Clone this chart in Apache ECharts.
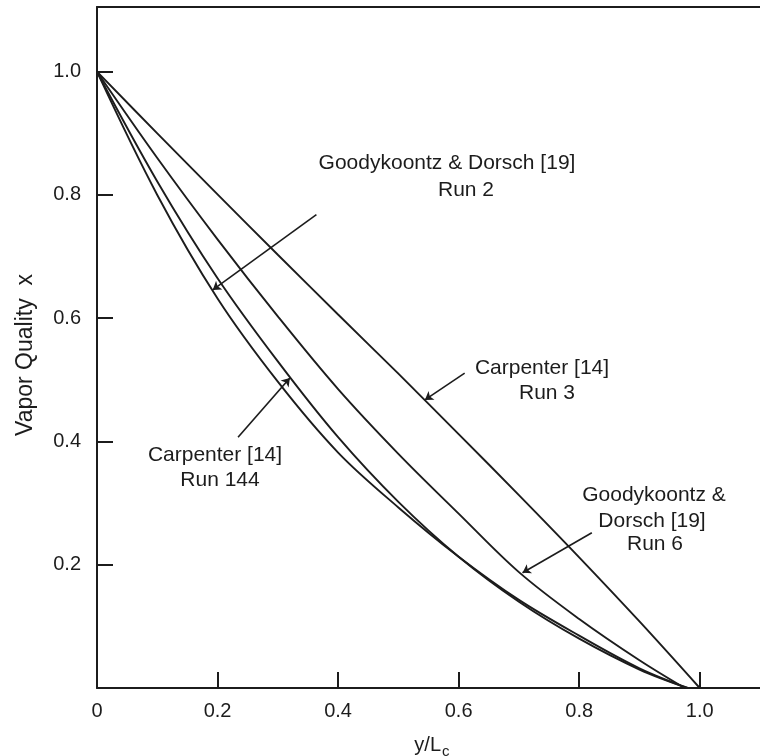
<!DOCTYPE html>
<html>
<head>
<meta charset="utf-8">
<script src="https://cdn.jsdelivr.net/npm/echarts@6/dist/echarts.min.js"></script>
<style>
html,body{margin:0;padding:0;background:#fff;}
#chart{width:760px;height:756px;}
</style>
</head>
<body>
<div id="chart"></div>
<script>
// ---- data ----
const xTickValues = [0, 0.2, 0.4, 0.6, 0.8, 1.0];
const yTickValues = [0.2, 0.4, 0.6, 0.8, 1.0];

const xRun3 = [0, 0.1, 0.2, 0.3, 0.4, 0.5, 0.6, 0.7, 0.8, 0.9, 1.0];
const yRun3 = [1, 0.9, 0.801, 0.703, 0.606, 0.51, 0.412, 0.313, 0.212, 0.108, 0];

const xRun6 = [0, 0.1, 0.2, 0.3, 0.4, 0.5, 0.6, 0.7, 0.8, 0.9, 0.975];
const yRun6 = [1, 0.86, 0.728, 0.603, 0.485, 0.38, 0.283, 0.188, 0.112, 0.045, 0];

const xRun2 = [0, 0.1, 0.2, 0.3, 0.4, 0.5, 0.6, 0.7, 0.8, 0.9, 0.98];
const yRun2 = [1, 0.80, 0.632, 0.497, 0.382, 0.293, 0.213, 0.143, 0.085, 0.032, 0];

const xRun144 = [0, 0.1, 0.2, 0.3, 0.4, 0.5, 0.6, 0.7, 0.8, 0.9, 0.98];
const yRun144 = [1, 0.822, 0.665, 0.53, 0.407, 0.302, 0.213, 0.14, 0.08, 0.03, 0];

// leader lines: [start, arrow tip] in data units
const leaderRun2 = [[0.364, 0.768], [0.192, 0.646]];
const leaderRun3 = [[0.610, 0.511], [0.544, 0.4675]];
const leaderRun144 = [[0.234, 0.407], [0.320, 0.503]];
const leaderRun6 = [[0.821, 0.252], [0.706, 0.187]];

const labelRun2 = ['Goodykoontz & Dorsch [19]', 'Run 2'];
const labelRun3 = ['Carpenter [14]', 'Run 3'];
const labelRun144 = ['Carpenter [14]', 'Run 144'];
const labelRun6 = ['Goodykoontz &', 'Dorsch [19]', 'Run 6'];

const yAxisTitle = 'Vapor Quality  x';
const xAxisTitleMain = 'y/L';
const xAxisTitleSub = 'c';

// ---- chart ----
const FONT = '"Liberation Sans", Arial, Helvetica, sans-serif';
const INK = '#1c1c1c';
const zip = (xs, ys) => xs.map((x, i) => [x, ys[i]]);

const chart = echarts.init(document.getElementById('chart'), null, {renderer: 'canvas'});

function curve(name, xs, ys) {
  return {
    name, type: 'line', xAxisIndex: 0, yAxisIndex: 0,
    data: zip(xs, ys), smooth: 0.35, showSymbol: false, symbol: 'none',
    lineStyle: {color: INK, width: 1.9}, silent: true, animation: false, z: 3
  };
}

function fmtTick(v, list) {
  for (const t of list) if (Math.abs(v - t) < 1e-6) return t === 0 ? '0' : t.toFixed(1);
  return '';
}

function textEl(str, x, y) {
  return {
    type: 'text', x, y, silent: true, z: 10,
    style: {text: str, fill: INK, font: '21px ' + FONT, align: 'center', verticalAlign: 'middle'}
  };
}

const option = {
  backgroundColor: '#fff',
  animation: false,
  grid: {left: 97, right: 0, top: 7, bottom: 68, containLabel: false},
  xAxis: [{
    type: 'value', min: 0, max: 1.1, interval: 0.2, position: 'bottom',
    axisLine: {show: true, onZero: false, lineStyle: {color: INK, width: 2}},
    axisTick: {show: true, inside: true, length: 16, customValues: xTickValues.slice(1),
      lineStyle: {color: INK, width: 2}},
    axisLabel: {margin: 13, color: INK, fontSize: 20, fontFamily: FONT, customValues: xTickValues,
      formatter: v => fmtTick(v, xTickValues)},
    splitLine: {show: false}
  }, {
    type: 'value', min: 0, max: 1.1, position: 'top',
    axisLine: {show: true, onZero: false, lineStyle: {color: INK, width: 2}},
    axisTick: {show: false}, axisLabel: {show: false}, splitLine: {show: false}
  }],
  yAxis: [{
    type: 'value', min: 0, max: 1.105, interval: 0.2,
    axisLine: {show: true, onZero: false, lineStyle: {color: INK, width: 2}},
    axisTick: {show: true, inside: true, length: 16, customValues: yTickValues,
      lineStyle: {color: INK, width: 2}},
    axisLabel: {margin: 16, color: INK, fontSize: 20, fontFamily: FONT, customValues: yTickValues,
      formatter: v => fmtTick(v, yTickValues)},
    splitLine: {show: false}
  }],
  series: [
    curve('Carpenter [14] Run 3', xRun3, yRun3),
    curve('Goodykoontz & Dorsch [19] Run 6', xRun6, yRun6),
    curve('Goodykoontz & Dorsch [19] Run 2', xRun2, yRun2),
    curve('Carpenter [14] Run 144', xRun144, yRun144),
    {
      type: 'lines', coordinateSystem: 'cartesian2d', xAxisIndex: 0, yAxisIndex: 0,
      silent: true, animation: false, z: 4,
      symbol: ['none', 'arrow'], symbolSize: 8,
      lineStyle: {color: INK, width: 1.6, opacity: 1},
      data: [leaderRun2, leaderRun3, leaderRun144, leaderRun6].map(c => ({coords: c}))
    }
  ],
  graphic: [
    textEl(labelRun2[0], 447, 163), textEl(labelRun2[1], 466, 190),
    textEl(labelRun3[0], 542, 368), textEl(labelRun3[1], 547, 393),
    textEl(labelRun144[0], 215, 455), textEl(labelRun144[1], 220, 480),
    textEl(labelRun6[0], 654, 495), textEl(labelRun6[1], 652, 521), textEl(labelRun6[2], 655, 544),
    {
      type: 'text', x: 26, y: 355, rotation: Math.PI / 2, silent: true,
      style: {text: yAxisTitle, fill: INK, font: '23px ' + FONT, align: 'center', verticalAlign: 'middle'}
    },
    {
      type: 'text', x: 441, y: 745, silent: true,
      style: {text: xAxisTitleMain, fill: INK, font: '20px ' + FONT, align: 'right', verticalAlign: 'middle'}
    },
    {
      type: 'text', x: 442, y: 752, silent: true,
      style: {text: xAxisTitleSub, fill: INK, font: '15px ' + FONT, align: 'left', verticalAlign: 'middle'}
    }
  ]
};
chart.setOption(option);
</script>
</body>
</html>
